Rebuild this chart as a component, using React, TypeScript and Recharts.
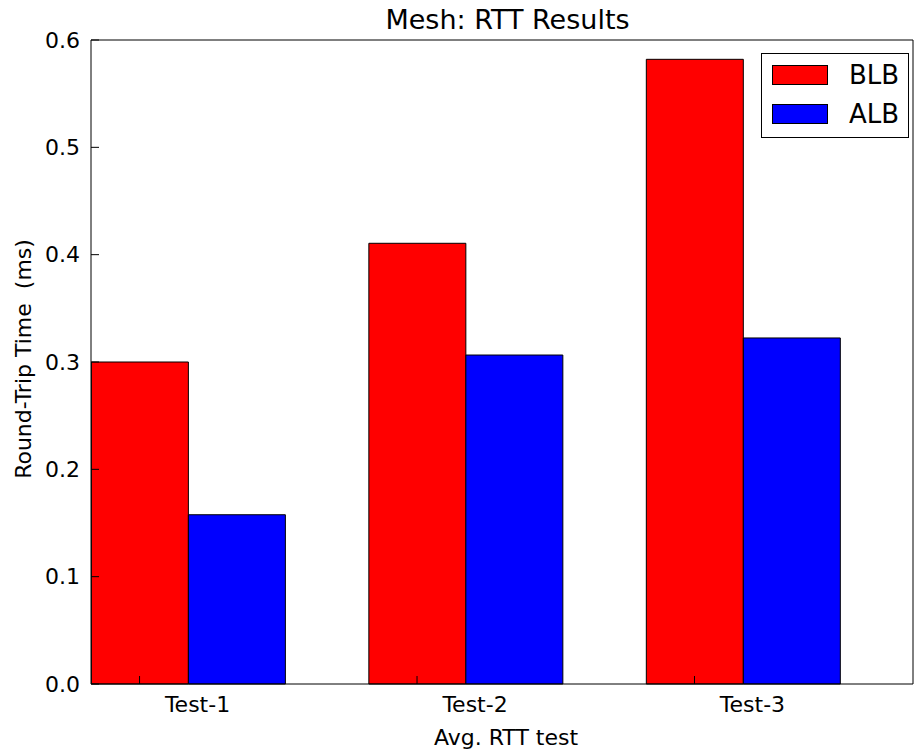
import React from 'react';
import { BarChart, Bar, XAxis, YAxis, Legend } from 'recharts';

const categories = ['Test-1', 'Test-2', 'Test-3'];
const seriesNames = ['BLB', 'ALB'];
const blbValues = [0.3, 0.4106, 0.582];
const albValues = [0.1577, 0.3065, 0.3224];
const yTicks = [0, 0.1, 0.2, 0.3, 0.4, 0.5, 0.6];

const FONT = '"DejaVu Sans", sans-serif';
const X_DOMAIN = [-0.175, 2.7875];

const data = categories.map((name, i) => ({
    pos: i + 0.175,
    name,
    BLB: blbValues[i],
    ALB: albValues[i],
}));
const catTicks = categories.map((_, i) => i);

const BottomTick = (props: any) => {
    const { x, y, payload } = props;
    return (
        <text x={x + 58} y={y + 28} textAnchor="middle" fontFamily={FONT} fontSize={22} fill="#000">
            {categories[payload.value]}
        </text>
    );
};

// keep legend rows in plotting order, not alphabetical
const LegendBox = (props: any) => {
    const items = [...(props.payload || [])].sort(
        (a: any, b: any) => seriesNames.indexOf(a.value) - seriesNames.indexOf(b.value)
    );
    return (
        <div style={{ width: 148, height: 85, border: '1px solid #000', background: '#fff', boxSizing: 'border-box', position: 'relative' }}>
            {items.map((it: any, i: number) => (
                <div key={it.value} style={{ position: 'absolute', left: 10, top: 11 + i * 39, display: 'flex', alignItems: 'center' }}>
                    <div style={{ width: 54, height: 18, background: it.color, border: '1px solid #000' }} />
                    <span style={{ marginLeft: 21, fontFamily: FONT, fontSize: 26, lineHeight: '20px' }}>{it.value}</span>
                </div>
            ))}
        </div>
    );
};

export default function App() {
    return (
        <div style={{ position: 'absolute', left: 0, top: 0, width: 914, height: 751, background: '#fff' }}>
            <div style={{ position: 'absolute', left: 0, width: 1015, top: 0, textAlign: 'center', fontFamily: FONT, fontSize: 27, lineHeight: '40px' }}>
                Mesh: RTT Results
            </div>
            <BarChart
                width={914}
                height={751}
                data={data}
                margin={{ top: 39, right: 0, bottom: 0, left: 0 }}
                barGap={0}
                barSize={97}
            >
                <XAxis
                    dataKey="pos"
                    type="number"
                    domain={X_DOMAIN}
                    ticks={catTicks}
                    allowDataOverflow
                    height={67}
                    tickSize={-8}
                    tickMargin={8}
                    stroke="#000"
                    tick={<BottomTick />}
                    label={() => (
                        <text x={506} y={745} textAnchor="middle" fontFamily={FONT} fontSize={22} fill="#000">
                            Avg. RTT test
                        </text>
                    )}
                />
                <XAxis
                    xAxisId="top"
                    orientation="top"
                    dataKey="pos"
                    type="number"
                    domain={X_DOMAIN}
                    ticks={catTicks}
                    allowDataOverflow
                    height={1}
                    tickSize={-8}
                    tick={false}
                    stroke="#000"
                />
                <YAxis
                    domain={[0, 0.6]}
                    ticks={yTicks}
                    width={91}
                    tickSize={-8}
                    tickMargin={19}
                    stroke="#000"
                    tick={{ fontFamily: FONT, fontSize: 22, fill: '#000' }}
                    tickFormatter={(v: number) => v.toFixed(1)}
                    label={() => (
                        <text
                            x={23}
                            y={359}
                            transform="rotate(-90 23 359)"
                            textAnchor="middle"
                            dominantBaseline="central"
                            fontFamily={FONT}
                            fontSize={22}
                            fill="#000"
                            style={{ whiteSpace: 'pre' }}
                        >
                            {'Round-Trip Time  (ms)'}
                        </text>
                    )}
                />
                <YAxis
                    yAxisId="right"
                    orientation="right"
                    domain={[0, 0.6]}
                    ticks={yTicks}
                    width={1}
                    tickSize={-8}
                    tick={false}
                    stroke="#000"
                />
                <Legend
                    layout="horizontal"
                    verticalAlign="middle"
                    align="center"
                    wrapperStyle={{ left: 761, top: 53, width: 148, height: 85 }}
                    content={<LegendBox />}
                />
                <Bar dataKey="BLB" name="BLB" fill="#ff0000" stroke="#000" strokeWidth={1} isAnimationActive={false} />
                <Bar dataKey="ALB" name="ALB" fill="#0000ff" stroke="#000" strokeWidth={1} isAnimationActive={false} />
            </BarChart>
        </div>
    );
}
